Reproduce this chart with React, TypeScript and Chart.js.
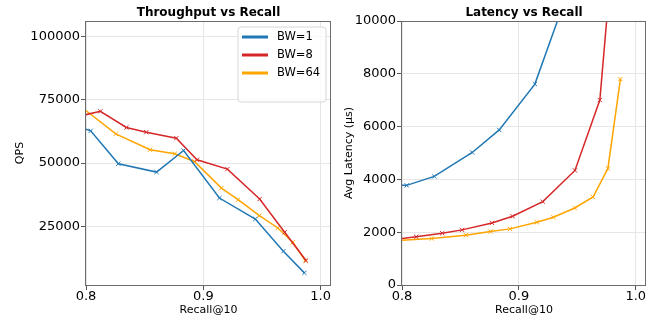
import React, { useEffect, useRef } from 'react';
import { Chart, registerables } from 'chart.js';

Chart.register(...registerables);

// ---------------- data ----------------
const seriesLabels = ['BW=1', 'BW=8', 'BW=64'];
const seriesColors = ['#1f77b4', '#d62728', '#ffa500'];

const recallBW1 = [0.78, 0.804, 0.8276, 0.8601, 0.8832, 0.9137, 0.9443, 0.9682, 0.9861];
const qpsBW1 = [66500, 62760, 49740, 46450, 55000, 36180, 27900, 15130, 6580];
const latencyBW1 = [3790, 3774, 4113, 5019, 5874, 7610, 11400, 20000, 45000];

const recallBW8 = [0.78, 0.8122, 0.8344, 0.8514, 0.877, 0.8946, 0.9205, 0.948, 0.9693, 0.9875];
const qpsBW8 = [67000, 70500, 64080, 62240, 59870, 51320, 47630, 35790, 22630, 11450];
const latencyBW8 = [1655, 1824, 1962, 2088, 2352, 2604, 3157, 4340, 7006, 16400];

const recallBW64 = [0.78, 0.8254, 0.8546, 0.8756, 0.8924, 0.9154, 0.9296, 0.9478, 0.9635, 0.9762, 0.9869];
const qpsBW64 = [78000, 61580, 55260, 53680, 50660, 40130, 35530, 29210, 24340, 18680, 11450];
const latencyBW64 = [1650, 1761, 1887, 2025, 2126, 2377, 2566, 2918, 3333, 4415, 7799];

const recallTicks = [0.8, 0.9, 1.0];
const qpsTicks = [25000, 50000, 75000, 100000];
const latencyTicks = [0, 2000, 4000, 6000, 8000, 10000];

const recallRange = [0.8, 1.0088];
const qpsRange = [1790, 106200];
const latencyRange = [0, 10000];

const chartTitles = ['Throughput vs Recall', 'Latency vs Recall'];
const xAxisTitle = 'Recall@10';
const yAxisTitles = ['QPS', 'Avg Latency (µs)'];

const recalls = [recallBW1, recallBW8, recallBW64];
const qpsSeries = [qpsBW1, qpsBW8, qpsBW64];
const latencySeries = [latencyBW1, latencyBW8, latencyBW64];

// ---------------- helpers ----------------
const FONT = "'DejaVu Sans', sans-serif";

function makeDatasets(values: number[][]) {
  return seriesLabels.map((label, i) => ({
    label,
    data: recalls[i].map((x, j) => ({ x, y: values[i][j] })),
    borderColor: seriesColors[i],
    backgroundColor: seriesColors[i],
    pointBorderColor: seriesColors[i],
    borderWidth: 1.5,
    pointStyle: 'crossRot',
    pointRadius: 3,
    pointBorderWidth: 1,
    tension: 0,
    clip: 0,
  }));
}

const framePlugin = {
  id: 'framePlugin',
  afterDatasetsDraw(chart: any, _args: any, opts: any) {
    const { ctx, chartArea } = chart;
    const { left, right, top, bottom } = chartArea;
    ctx.save();
    ctx.strokeStyle = '#6b6b6b';
    ctx.lineWidth = 1;
    ctx.strokeRect(left - 0.5, top + 0.5, right - left, bottom - top);
    // title
    ctx.fillStyle = '#000';
    ctx.font = `bold 12px ${FONT}`;
    ctx.textAlign = 'center';
    ctx.textBaseline = 'alphabetic';
    ctx.fillText(opts.title, (left + right) / 2, 16);
    // legend
    if (opts.legend) {
      const bx = 238, by = 27, bw = 88, bh = 75, r = 3;
      ctx.beginPath();
      ctx.moveTo(bx + r, by);
      ctx.arcTo(bx + bw, by, bx + bw, by + bh, r);
      ctx.arcTo(bx + bw, by + bh, bx, by + bh, r);
      ctx.arcTo(bx, by + bh, bx, by, r);
      ctx.arcTo(bx, by, bx + bw, by, r);
      ctx.closePath();
      ctx.fillStyle = 'rgba(255,255,255,0.8)';
      ctx.fill();
      ctx.strokeStyle = '#d6d6d6';
      ctx.stroke();
      chart.data.datasets.forEach((ds: any, i: number) => {
        const y = 37 + i * 18;
        ctx.strokeStyle = ds.borderColor;
        ctx.lineWidth = 3;
        ctx.beginPath();
        ctx.moveTo(242, y);
        ctx.lineTo(268, y);
        ctx.stroke();
        ctx.fillStyle = '#000';
        ctx.font = `11.5px ${FONT}`;
        ctx.textAlign = 'left';
        ctx.textBaseline = 'middle';
        ctx.fillText(ds.label, 277, y);
      });
    }
    ctx.restore();
  },
};

function makeOptions(idx: number) {
  const isLeft = idx === 0;
  const yRange = isLeft ? qpsRange : latencyRange;
  const yTicks = isLeft ? qpsTicks : latencyTicks;
  return {
    responsive: false,
    animation: false,
    devicePixelRatio: 1,
    layout: { padding: { top: 21, right: isLeft ? 9 : 19, left: 0, bottom: 0 } },
    plugins: {
      legend: { display: false },
      title: { display: false },
      tooltip: { enabled: false },
      framePlugin: { title: chartTitles[idx], legend: isLeft },
    },
    scales: {
      x: {
        type: 'linear',
        min: recallRange[0],
        max: recallRange[1],
        afterBuildTicks: (s: any) => {
          s.ticks = recallTicks.map((v) => ({ value: v }));
        },
        afterFit: (s: any) => {
          s.height = 35;
        },
        border: { display: false },
        grid: { color: '#e6e6e6', tickColor: '#555', tickLength: 5, lineWidth: 1 },
        ticks: {
          color: '#000',
          padding: 0,
          maxRotation: 0,
          font: { family: FONT, size: 13, lineHeight: 1 },
          callback: (v: any) => Number(v).toFixed(1),
        },
        title: {
          display: true,
          text: xAxisTitle,
          color: '#000',
          font: { family: FONT, size: 11, lineHeight: 1.2 },
          padding: { top: 0, bottom: 3.4 },
        },
      },
      y: {
        type: 'linear',
        min: yRange[0],
        max: yRange[1],
        afterBuildTicks: (s: any) => {
          s.ticks = yTicks.map((v) => ({ value: v }));
        },
        afterFit: (s: any) => {
          s.width = isLeft ? 86 : 72;
        },
        border: { display: false },
        grid: { color: '#e6e6e6', tickColor: '#555', tickLength: 5, lineWidth: 1 },
        ticks: {
          color: '#000',
          padding: 1,
          font: { family: FONT, size: 13, lineHeight: 1 },
          callback: (v: any) => String(v),
        },
        title: {
          display: true,
          text: yAxisTitles[idx],
          color: '#000',
          font: { family: FONT, size: 11, lineHeight: 1.2 },
          padding: { top: isLeft ? 13.4 : 12.4, bottom: 0 },
        },
      },
    },
  };
}

function PanelChart({ idx, left, width }: { idx: number; left: number; width: number }) {
  const ref = useRef<HTMLCanvasElement | null>(null);
  useEffect(() => {
    if (!ref.current) return;
    const chart = new Chart(ref.current, {
      type: 'line',
      data: { datasets: makeDatasets(idx === 0 ? qpsSeries : latencySeries) as any },
      options: makeOptions(idx) as any,
      plugins: [framePlugin],
    });
    return () => chart.destroy();
  }, [idx]);
  return (
    <canvas
      ref={ref}
      width={width}
      height={320}
      style={{ position: 'absolute', left, top: 0, width, height: 320 }}
    />
  );
}

export default function App() {
  return (
    <div
      style={{
        position: 'fixed',
        left: 0,
        top: 0,
        width: 665,
        height: 320,
        background: '#fff',
        overflow: 'hidden',
      }}
    >
      <PanelChart idx={0} left={0} width={340} />
      <PanelChart idx={1} left={330} width={335} />
    </div>
  );
}
